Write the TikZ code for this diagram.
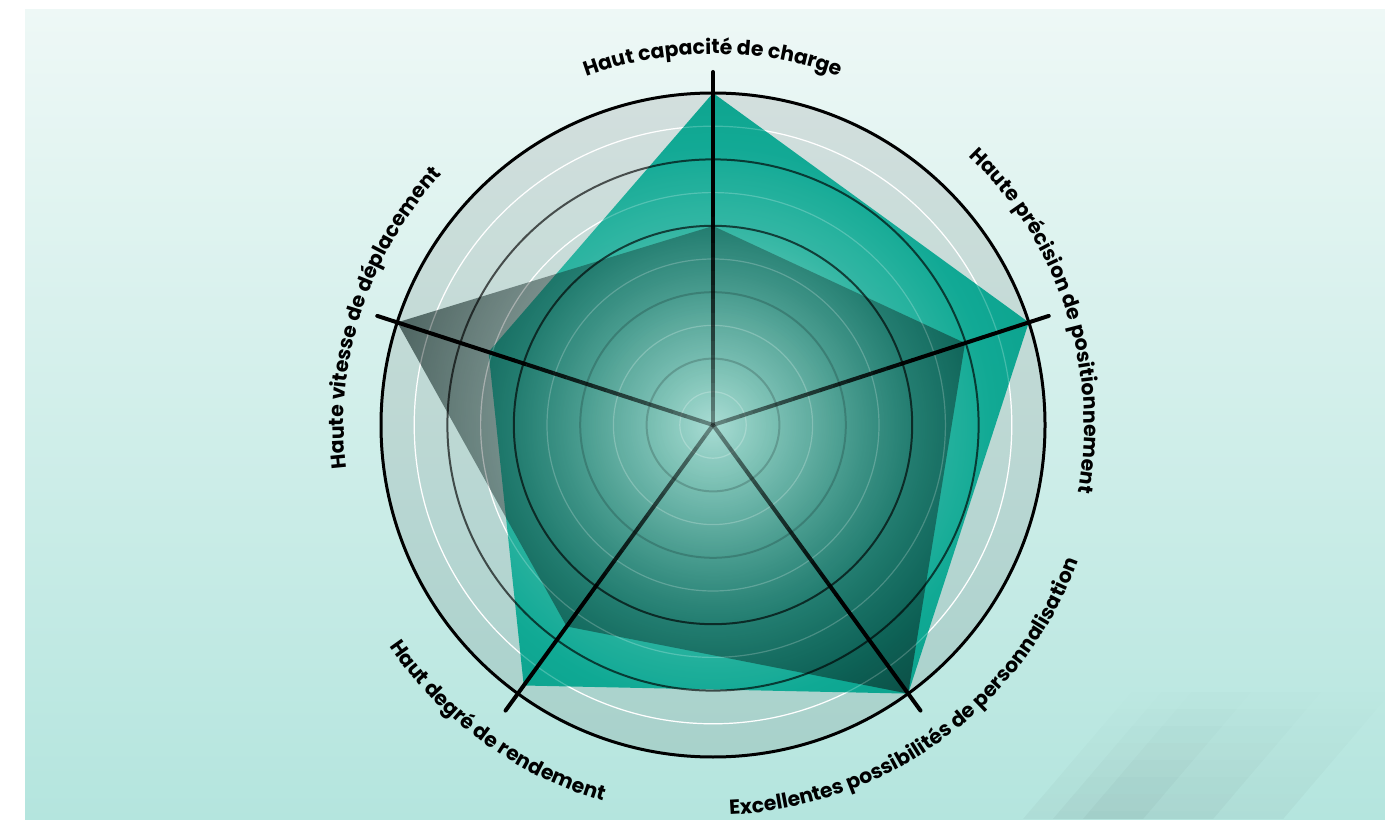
\documentclass[tikz,border=0pt]{standalone}
\usepackage{fontspec}
\newfontfamily\labfont{Poppins}
\usetikzlibrary{decorations.text,fadings}
\definecolor{bgtop}{RGB}{238,248,246}
\definecolor{bgbot}{RGB}{180,229,222}
\definecolor{tealin}{RGB}{168,222,212}
\definecolor{tealA}{RGB}{112,206,190}
\definecolor{tealB}{RGB}{40,180,160}
\definecolor{tealC}{RGB}{4,166,144}
\definecolor{tealout}{RGB}{0,160,138}
\definecolor{shadegrey}{RGB}{12,34,31}
\pgfdeclareradialshading{tealshade}{\pgfpoint{0bp}{0bp}}{color(0bp)=(tealin); color(7.5bp)=(tealA); color(15bp)=(tealB); color(21bp)=(tealC); color(25bp)=(tealout); color(50bp)=(tealout)}
\tikzfading[name=greyfade, inner color=transparent!100, outer color=transparent!36]
\tikzfading[name=stripefade, top color=transparent!100, bottom color=transparent!0]
\tikzset{
  whitering/.style={white, line width=0.6pt},
  darkring/.style={black, line width=1pt},
  axisline/.style={black, line width=2pt, line cap=butt},
  stripeband/.style={black, opacity=0.03, path fading=stripefade},
  labelcw/.style={decorate, decoration={text along path, text align=center,
      text={|\labfont\bfseries\fontsize{10.2}{12}\selectfont|#1}}},
}
\begin{document}
\begin{tikzpicture}[x=0.5pt,y=0.5pt]
\useasboundingbox (0,0) rectangle (1385,819);
\fill[white] (0,0) rectangle (1385,819);
\shade[top color=bgtop, bottom color=bgbot] (25,0) rectangle (1385,809);
% decorative stripes
\begin{scope}
  \clip (25,0) rectangle (1385,809);
  \fill[stripeband] (1023,0) -- (1283,0) -- (1399,136) -- (1139,136) -- cycle;
  \fill[stripeband] (1053,0) -- (1213,0) -- (1329,136) -- (1169,136) -- cycle;
  \fill[stripeband] (1083,0) -- (1143,0) -- (1259,136) -- (1199,136) -- cycle;
\end{scope}
\coordinate (c) at (713,394);
\begin{scope}[shift={(c)}]
  % disk
  \fill[black, opacity=0.09] (0,0) circle (332);
  \foreach \f in {0.1,0.3,0.5,0.7,0.9} \draw[whitering] (0,0) circle ({\f*332});
  % teal polygon
  \begin{scope}
    \clip (90:332) -- (18:332) -- (-54:332) -- (-126:322) -- (162:236) -- cycle;
    \shade[shading=tealshade, opacity=0.93] (0,0) circle (332);
  \end{scope}
  % grey polygon
  \begin{scope}
    \clip (90:199) -- (18:265) -- (-54:332) -- (-126:249) -- (162:332) -- cycle;
    \fill[shadegrey, path fading=greyfade] (0,0) circle (332);
  \end{scope}
  % rings on top
  \foreach \f in {0.1,0.3,0.5,0.7,0.9} \draw[whitering, opacity=0.2] (0,0) circle ({\f*332});
  \foreach \f in {0.2,0.4} \draw[darkring, opacity=0.18] (0,0) circle ({\f*332});
  \foreach \f in {0.6,0.8} \draw[darkring, opacity=0.65] (0,0) circle ({\f*332});
  \draw[black, line width=1.5pt] (0,0) circle (332);
  % axes
  \foreach \a in {90,18,-54,-126,162} {
    \foreach \i in {0,...,14} {
      \pgfmathsetmacro\ra{\i*14}
      \pgfmathsetmacro\rb{(\i+1)*14}
      \pgfmathsetmacro\op{min(1,0.4+0.6*\ra/210)}
      \draw[axisline, opacity=\op] (\a:\ra) -- (\a:\rb);
    }
    \draw[axisline, line cap=round] (\a:210) -- (\a:353);
  }
  % labels
  \path[labelcw={Haut capacité de charge}] (130:371) arc[start angle=130, end angle=50, radius=371];
  \path[labelcw={Haute précision de positionnement}] (63:371) arc[start angle=63, end angle=-27, radius=371];
  \path[labelcw={Haute vitesse de déplacement}] (207:369) arc[start angle=207, end angle=117, radius=369];
  \path[labelcw={Haut degré de rendement}] (189:392) arc[start angle=189, end angle=279, radius=392];
  \path[labelcw={Excellentes possibilités de personnalisation}] (-109:390) arc[start angle=-109, end angle=1, radius=390];
\end{scope}
\end{tikzpicture}
\end{document}
